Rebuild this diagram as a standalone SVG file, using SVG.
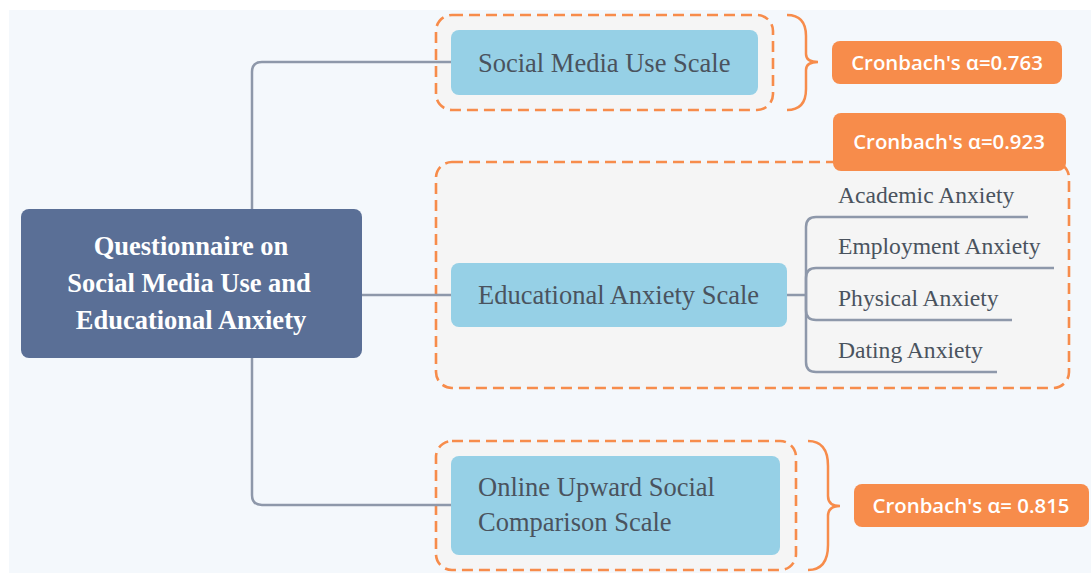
<svg xmlns="http://www.w3.org/2000/svg" width="1091" height="574" viewBox="0 0 1091 574">
  <style>
    .bg { fill: #f4f8fc; }
    .group { fill: #f5f5f5; stroke: #f78c4b; stroke-width: 2.6; stroke-dasharray: 11 6; }
    .brace { fill: none; stroke: #f78c4b; stroke-width: 2.5; }
    .link { fill: none; stroke: #8e98aa; stroke-width: 2.5; }
    .root { fill: #5a6f96; }
    .topic { fill: #96d0e6; }
    .badge { fill: #f78c4b; }
    .root-text { font-family: "Liberation Serif", "Times New Roman", serif; font-weight: bold; font-size: 26.5px; fill: #ffffff; text-anchor: middle; }
    .topic-text { font-family: "Liberation Serif", "Times New Roman", serif; font-size: 26.5px; fill: #4a535e; }
    .sub-text { font-family: "Liberation Serif", "Times New Roman", serif; font-size: 23.6px; fill: #4a535e; }
    .badge-text { font-family: "Open Sans", "Noto Sans", sans-serif; font-weight: 600; font-size: 20.4px; fill: #ffffff; text-anchor: middle; }
  </style>

  <rect class="bg" x="9" y="10" width="1082" height="563"/>

  <!-- dashed boundaries around each scale -->
  <g id="boundary-social">
    <rect class="group" x="436" y="15" width="337" height="95" rx="16"/>
  </g>
  <g id="boundary-educational">
    <rect class="group" x="436" y="162" width="633" height="226" rx="16"/>
  </g>
  <g id="boundary-online">
    <rect class="group" x="436" y="441" width="360" height="129" rx="16"/>
  </g>

  <!-- connectors -->
  <g id="connectors">
    <path class="link" d="M252,209 L252,72 Q252,62 262,62 L451,62"/>
    <path class="link" d="M362,295 L451,295"/>
    <path class="link" d="M252,358 L252,495 Q252,505 262,505 L451,505"/>
    <path class="link" d="M787,295 L806,295"/>
    <path class="link" d="M806,295 L806,227 Q806,217 816,217 L1028,217"/>
    <path class="link" d="M806,295 L806,278 Q806,268 816,268 L1054,268"/>
    <path class="link" d="M806,295 L806,310 Q806,320 816,320 L1012,320"/>
    <path class="link" d="M806,295 L806,362 Q806,372 816,372 L997,372"/>
    <path class="brace" d="M787,15 Q806,15 806,36 L806,54 Q806,62 818,62 Q806,62 806,70 L806,89 Q806,110 787,110"/>
    <path class="brace" d="M808,441 Q828,441 828,466 L828,496 Q828,506 840,506 Q828,506 828,516 L828,545 Q828,570 808,570"/>
  </g>

  <!-- central topic -->
  <g id="root">
    <rect class="root" x="21" y="209" width="341" height="149" rx="8"/>
    <text class="root-text" x="191" y="255">Questionnaire on</text>
    <text class="root-text" x="189" y="292">Social Media Use and</text>
    <text class="root-text" x="191" y="329">Educational Anxiety</text>
  </g>

  <g id="social-media-use-scale">
    <rect class="topic" x="451" y="30" width="307" height="65" rx="8"/>
    <text class="topic-text" x="478" y="72">Social Media Use Scale</text>
  </g>

  <g id="educational-anxiety-scale">
    <rect class="topic" x="451" y="263" width="336" height="64" rx="8"/>
    <text class="topic-text" x="478" y="304">Educational Anxiety Scale</text>
  </g>

  <g id="academic-anxiety">
    <text class="sub-text" x="838" y="203">Academic Anxiety</text>
  </g>
  <g id="employment-anxiety">
    <text class="sub-text" x="838" y="254">Employment Anxiety</text>
  </g>
  <g id="physical-anxiety">
    <text class="sub-text" x="838" y="306">Physical Anxiety</text>
  </g>
  <g id="dating-anxiety">
    <text class="sub-text" x="838" y="358">Dating Anxiety</text>
  </g>

  <g id="online-upward-social-comparison-scale">
    <rect class="topic" x="451" y="456" width="329" height="99" rx="8"/>
    <text class="topic-text" x="478" y="496">Online Upward Social</text>
    <text class="topic-text" x="478" y="531">Comparison Scale</text>
  </g>

  <!-- reliability badges -->
  <g id="alpha-social">
    <rect class="badge" x="832" y="41" width="230" height="43" rx="8"/>
    <text class="badge-text" x="947" y="69.5">Cronbach's α=0.763</text>
  </g>
  <g id="alpha-educational">
    <rect class="badge" x="833" y="113" width="233" height="58" rx="8"/>
    <text class="badge-text" x="949" y="149">Cronbach's α=0.923</text>
  </g>
  <g id="alpha-online">
    <rect class="badge" x="854" y="484" width="235" height="43" rx="8"/>
    <text class="badge-text" x="971" y="512.5">Cronbach's α= 0.815</text>
  </g>
</svg>
